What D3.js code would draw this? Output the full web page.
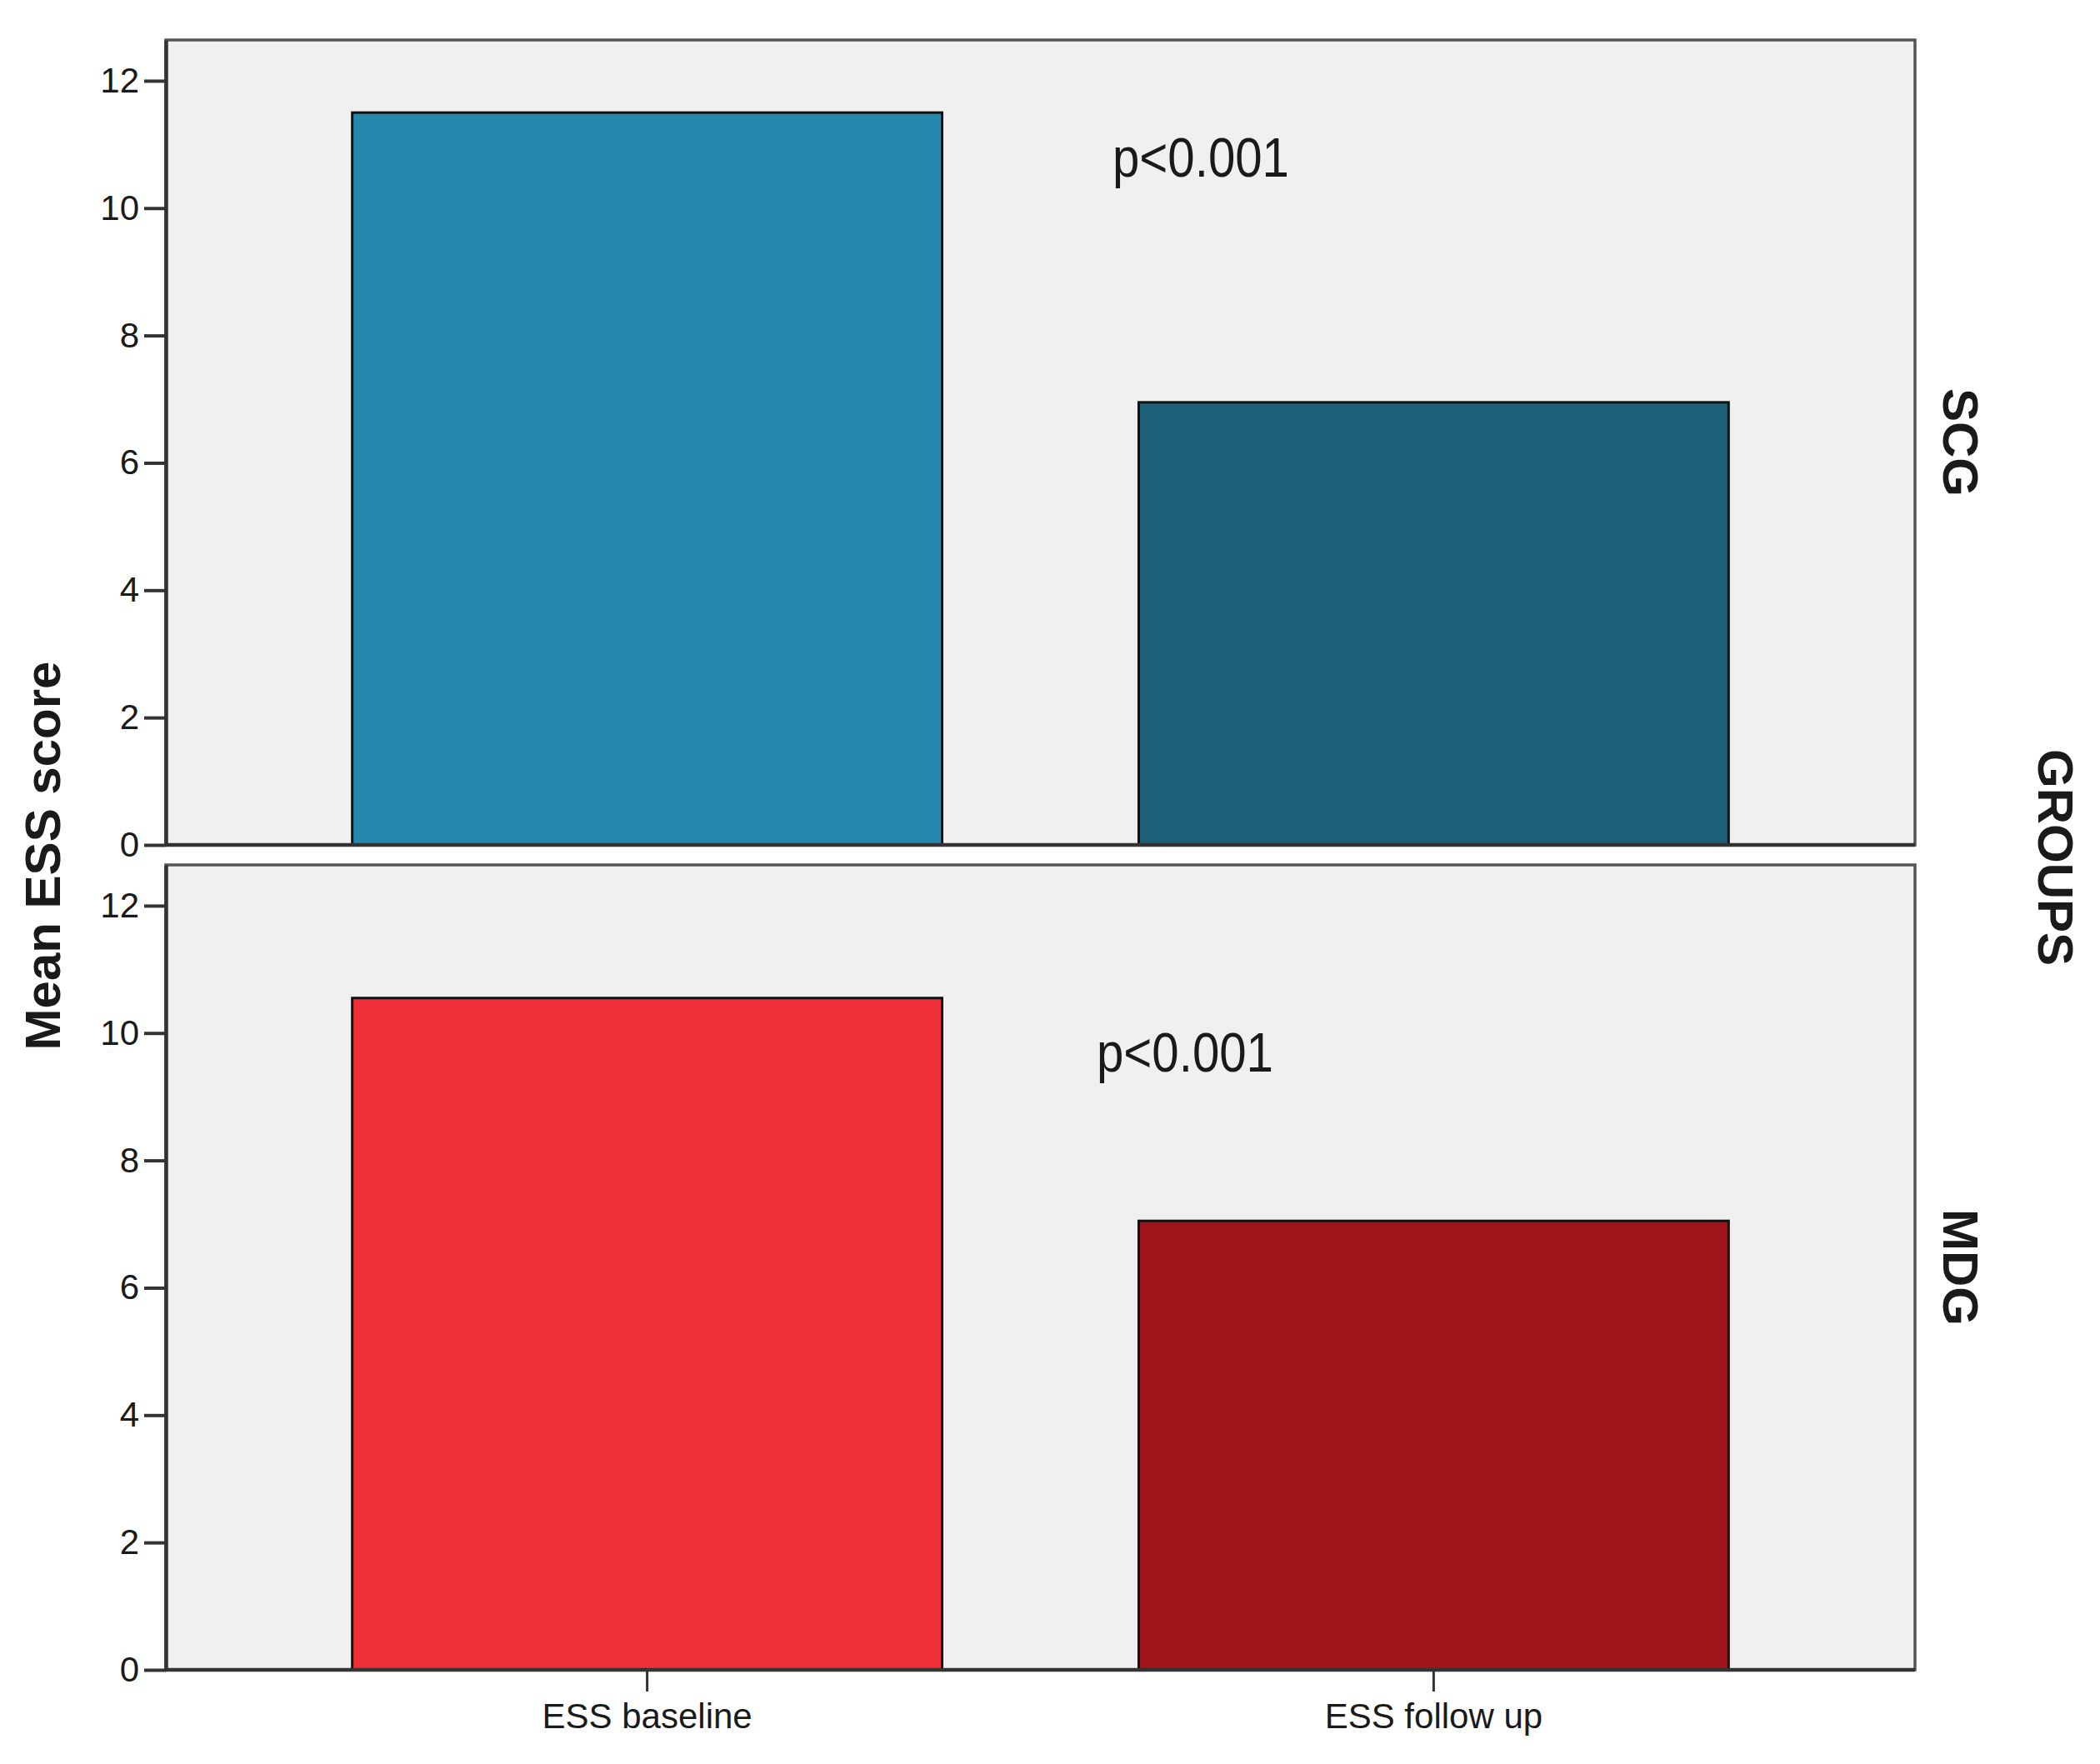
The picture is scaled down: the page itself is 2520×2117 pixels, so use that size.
<!DOCTYPE html>
<html>
<head>
<meta charset="utf-8">
<script src="https://cdn.jsdelivr.net/npm/d3@7/dist/d3.min.js"></script>
<style>
  html, body { margin: 0; padding: 0; background: #fff; }
  svg text { font-family: "Liberation Sans", Arial, sans-serif; fill: #1a1a1a; }
</style>
</head>
<body>
<div id="viz"></div>
<script>
// datos
const categories = ['ESS baseline', 'ESS follow up'];
const groups = ['SCG', 'MDG'];
const scgValues = [11.5, 6.95];
const mdgValues = [10.55, 7.05];
const yTicks = [0, 2, 4, 6, 8, 10, 12];
const pLabels = ['p<0.001', 'p<0.001'];

// colores
const COLOR_SCG_1 = '#2589ad',
    COLOR_SCG_2 = '#1d5f77',
    COLOR_MDG_1 = '#ef3038',
    COLOR_MDG_2 = '#a1161b',
    COLOR_PANEL = '#f0f0f0',
    COLOR_FRAME = '#555555';

const W = 2520, H = 2117;
let margin = {left: 199, right: 222},
    width = W - margin.left - margin.right,
    panelH = 966,
    panelTops = [48, 1038],
    pPos = [{x: 1335, y: 212}, {x: 1316, y: 1286}];

let svg = d3.select('#viz').append('svg')
    .attr('width', W)
    .attr('height', H);

let x = d3.scaleBand()
    .domain(categories)
    .range([0, width])
    .paddingInner(0.25)
    .paddingOuter(0.237);

let y = d3.scaleLinear()
    .domain([0, 12.64])
    .range([panelH, 0]);

let panels = [
    {name: groups[0], values: scgValues, colors: [COLOR_SCG_1, COLOR_SCG_2]},
    {name: groups[1], values: mdgValues, colors: [COLOR_MDG_1, COLOR_MDG_2]}
];

panels.forEach(function(p, i) {
    let g = svg.append('g')
        .attr('transform', 'translate(' + margin.left + ',' + panelTops[i] + ')');

    // fondo del panel
    g.append('rect')
        .attr('x', 0).attr('y', 0)
        .attr('width', width).attr('height', panelH)
        .attr('fill', COLOR_PANEL)
        .attr('stroke', COLOR_FRAME)
        .attr('stroke-width', 3.5);

    // barras
    g.selectAll('.bar')
        .data(p.values)
        .enter()
        .append('rect')
        .attr('class', 'bar')
        .attr('x', function(d, j) { return x(categories[j]); })
        .attr('width', x.bandwidth())
        .attr('y', function(d) { return y(d); })
        .attr('height', function(d) { return panelH - y(d); })
        .attr('fill', function(d, j) { return p.colors[j]; })
        .attr('stroke', '#111')
        .attr('stroke-width', 3);

    // eje Y
    let yAxis = g.append('g')
        .call(d3.axisLeft(y).tickValues(yTicks).tickSize(26).tickPadding(6).tickSizeOuter(0));
    yAxis.select('.domain').attr('stroke', '#333').attr('stroke-width', 4.5);
    yAxis.selectAll('.tick line').attr('stroke', '#333').attr('stroke-width', 4);
    yAxis.selectAll('.tick text')
        .attr('font-size', 42)
        .attr('font-family', '"Liberation Sans", Arial, sans-serif')
        .attr('fill', '#1a1a1a');

    // linea base
    g.append('line')
        .attr('x1', 0).attr('x2', width)
        .attr('y1', panelH).attr('y2', panelH)
        .attr('stroke', '#333').attr('stroke-width', 4.5);

    // p valor
    g.append('text')
        .attr('x', pPos[i].x - margin.left)
        .attr('y', pPos[i].y - panelTops[i])
        .attr('font-size', 66)
        .attr('textLength', 212)
        .attr('lengthAdjust', 'spacingAndGlyphs')
        .text(pLabels[i]);

    // etiqueta del grupo
    g.append('text')
        .attr('transform', 'translate(' + (width + 34) + ',' + (panelH / 2) + ') rotate(90)')
        .attr('text-anchor', 'middle')
        .attr('font-size', 60)
        .attr('font-weight', 'bold')
        .text(p.name);

    // eje X solo en el panel inferior
    if (i == panels.length - 1) {
        let xAxis = g.append('g')
            .attr('transform', 'translate(0,' + panelH + ')')
            .call(d3.axisBottom(x).tickSize(26).tickPadding(14).tickSizeOuter(0));
        xAxis.select('.domain').remove();
        xAxis.selectAll('.tick line').attr('stroke', '#333').attr('stroke-width', 3);
        xAxis.selectAll('.tick text')
            .attr('font-size', 42)
            .attr('font-family', '"Liberation Sans", Arial, sans-serif')
            .attr('fill', '#1a1a1a');
    }
});

// titulos de ejes
svg.append('text')
    .attr('transform', 'translate(72,1027) rotate(-90)')
    .attr('text-anchor', 'middle')
    .attr('font-size', 60)
    .attr('font-weight', 'bold')
    .text('Mean ESS score');

svg.append('text')
    .attr('transform', 'translate(2446,1029) rotate(90)')
    .attr('text-anchor', 'middle')
    .attr('font-size', 60)
    .attr('font-weight', 'bold')
    .text('GROUPS');
</script>
</body>
</html>
